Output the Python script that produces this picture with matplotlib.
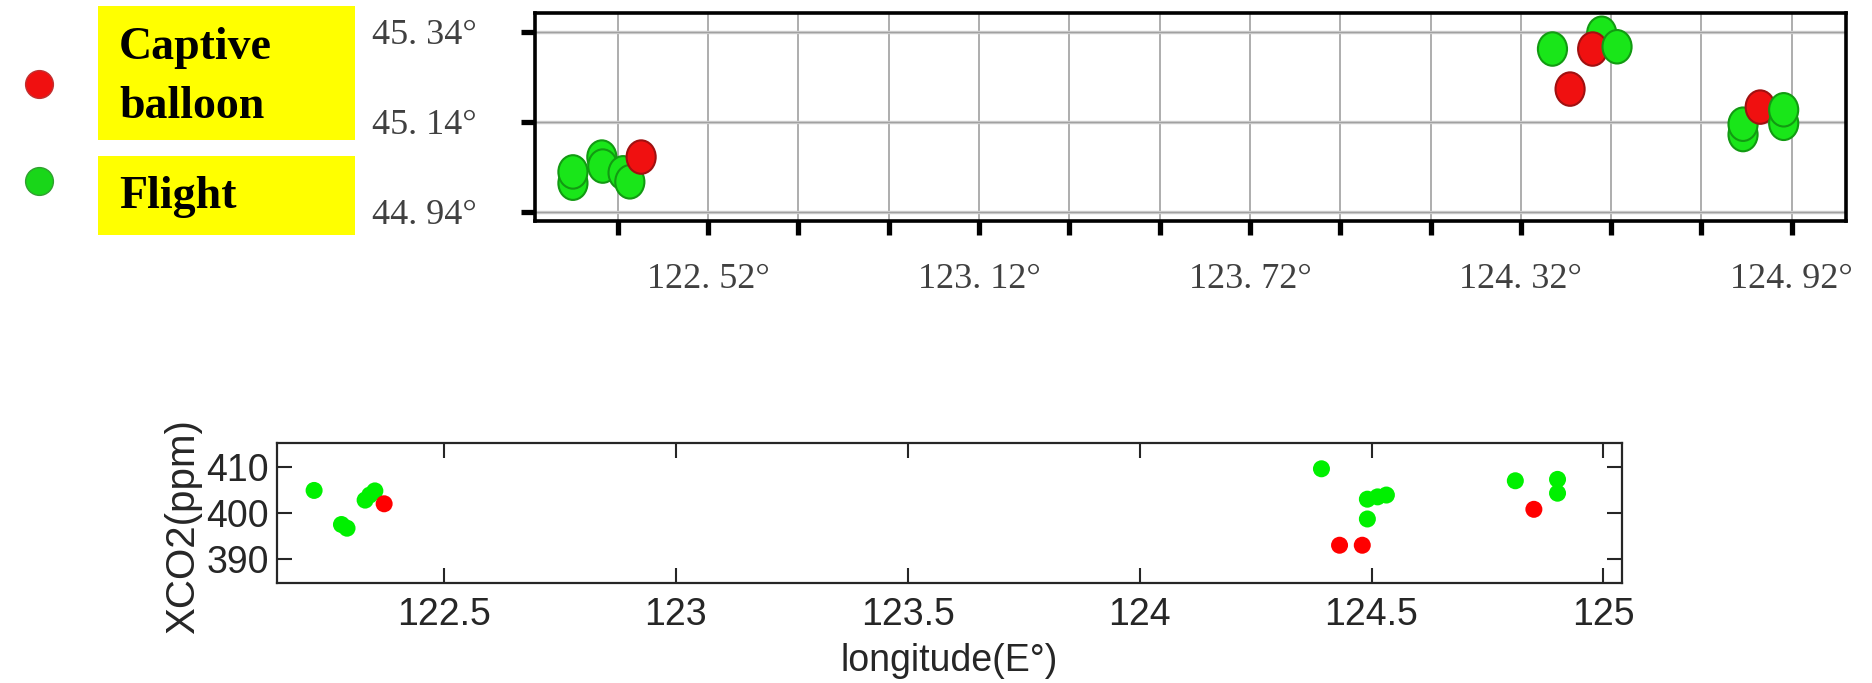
import matplotlib.pyplot as plt
from matplotlib.path import Path
from matplotlib.patches import Rectangle
from matplotlib.transforms import Affine2D

# top panel: map of sampling sites (drawing order kept)
map_lon = [122.221, 122.221, 122.285, 122.287, 122.332, 122.347, 122.372,
           124.390, 124.429, 124.499, 124.479, 124.533,
           124.812, 124.812, 124.850, 124.902, 124.902]
map_lat = [45.004, 45.029, 45.062, 45.042, 45.027, 45.007, 45.062,
           45.302, 45.213, 45.337, 45.302, 45.307,
           45.112, 45.135, 45.173, 45.137, 45.167]
map_kind = ['F', 'F', 'F', 'F', 'F', 'F', 'B',
            'F', 'B', 'F', 'B', 'F',
            'F', 'F', 'B', 'F', 'F']

lon_ticks = [122.32, 122.52, 122.72, 122.92, 123.12, 123.32, 123.52,
             123.72, 123.92, 124.12, 124.32, 124.52, 124.72, 124.92]
lon_labels = ['', '122. 52°', '', '', '123. 12°', '', '',
              '123. 72°', '', '', '124. 32°', '', '', '124. 92°']
lat_ticks = [44.94, 45.14, 45.34]
lat_labels = ['44. 94°', '45. 14°', '45. 34°']

# bottom panel: XCO2 vs longitude
flight_lon = [122.220, 122.279, 122.291, 122.330, 122.340, 122.351,
              124.392, 124.491, 124.491, 124.513, 124.532,
              124.810, 124.901, 124.901]
flight_xco2 = [404.9, 397.5, 396.7, 402.8, 403.9, 404.8,
               409.6, 398.7, 403.0, 403.5, 403.9,
               407.0, 407.3, 404.3]
balloon_lon = [122.371, 124.431, 124.480, 124.850]
balloon_xco2 = [402.0, 393.0, 393.0, 400.8]

face = {'F': '#19e619', 'B': '#f01010'}
edge = {'F': '#129a12', 'B': '#a01010'}

fig = plt.figure(figsize=(18.72, 6.83), dpi=100)

# ---- top map panel
ax1 = fig.add_axes([535/1872, 1-221/683, (1846-535)/1872, (221-13)/683])
ax1.set_xlim(122.137, 125.040)
ax1.set_ylim(44.92, 45.382)
for x in lon_ticks:
    ax1.axvline(x, color='#a0a0a0', lw=1.2, zorder=1)
for y in lat_ticks:
    ax1.axhline(y, color='#c8c8c8', lw=2.4, zorder=1)
    ax1.axhline(y, color='#a0a0a0', lw=0.7, zorder=1)

oval = Path.unit_circle().transformed(Affine2D().scale(0.87, 1.0))
ax1.scatter(map_lon, map_lat, s=580, marker=oval,
            c=[face[k] for k in map_kind], edgecolors=[edge[k] for k in map_kind],
            linewidths=1.5, zorder=3)

ax1.set_xticks(lon_ticks)
ax1.set_xticklabels(lon_labels)
ax1.set_yticks(lat_ticks)
ax1.set_yticklabels(lat_labels)
ax1.tick_params(direction='out', length=10, width=3.8, color='black', labelcolor='#404040',
                labelsize=26)
ax1.tick_params(axis='x', pad=20)
ax1.tick_params(axis='y', pad=32)
for lab in ax1.get_xticklabels() + ax1.get_yticklabels():
    lab.set_family('Liberation Serif')
for sp in ax1.spines.values():
    sp.set_linewidth(2.6)
    sp.set_color('black')

# ---- bottom XCO2 panel
ax2 = fig.add_axes([277/1872, 1-583/683, (1622-277)/1872, (583-443)/683])
ax2.scatter(flight_lon, flight_xco2, s=150, color='#00f000', edgecolors='none', zorder=3)
ax2.scatter(balloon_lon, balloon_xco2, s=150, color='#ff0000', edgecolors='none', zorder=3)
ax2.set_xlim(122.14, 125.04)
ax2.set_ylim(384.8, 415.2)
ax2.set_xticks([122.5, 123, 123.5, 124, 124.5, 125])
ax2.set_xticklabels(['122.5', '123', '123.5', '124', '124.5', '125'])
ax2.set_yticks([390, 400, 410])
ax2.tick_params(direction='in', length=11, width=1.5, top=True, right=True,
                color='#262626', labelcolor='#262626', labelsize=27)
ax2.tick_params(axis='x', pad=10)
ax2.tick_params(axis='y', pad=6)
for lab in ax2.get_xticklabels() + ax2.get_yticklabels():
    lab.set_family('Liberation Sans')
ax2.set_xlabel('longitude(E°)', fontsize=27, color='#262626', labelpad=7,
               family='Liberation Sans')
ax2.set_ylabel('XCO2(ppm)', fontsize=29, color='#262626', family='Liberation Sans')
ax2.yaxis.set_label_coords(-0.056, 0.40)
for sp in ax2.spines.values():
    sp.set_linewidth(1.6)
    sp.set_color('#262626')

# ---- legend (pixel coordinates overlay)
leg = fig.add_axes([0, 0, 1, 1])
leg.set_xlim(0, 1872)
leg.set_ylim(683, 0)
leg.axis('off')
leg.add_patch(Rectangle((98, 6), 257, 134, color='#ffff00', lw=0))
leg.add_patch(Rectangle((98, 156), 257, 79, color='#ffff00', lw=0))
leg.scatter([39], [84], s=400, color='#f01010', edgecolors='#c03030', lw=1)
leg.scatter([39], [181], s=400, color='#19d619', edgecolors='#30a030', lw=1)
for txt, y in [('Captive', 48), ('balloon', 107), ('Flight', 197)]:
    leg.text(119, y, txt, fontsize=33, fontweight='bold', family='Liberation Serif',
             va='center', ha='left')

fig.savefig('out.png', dpi=100)
